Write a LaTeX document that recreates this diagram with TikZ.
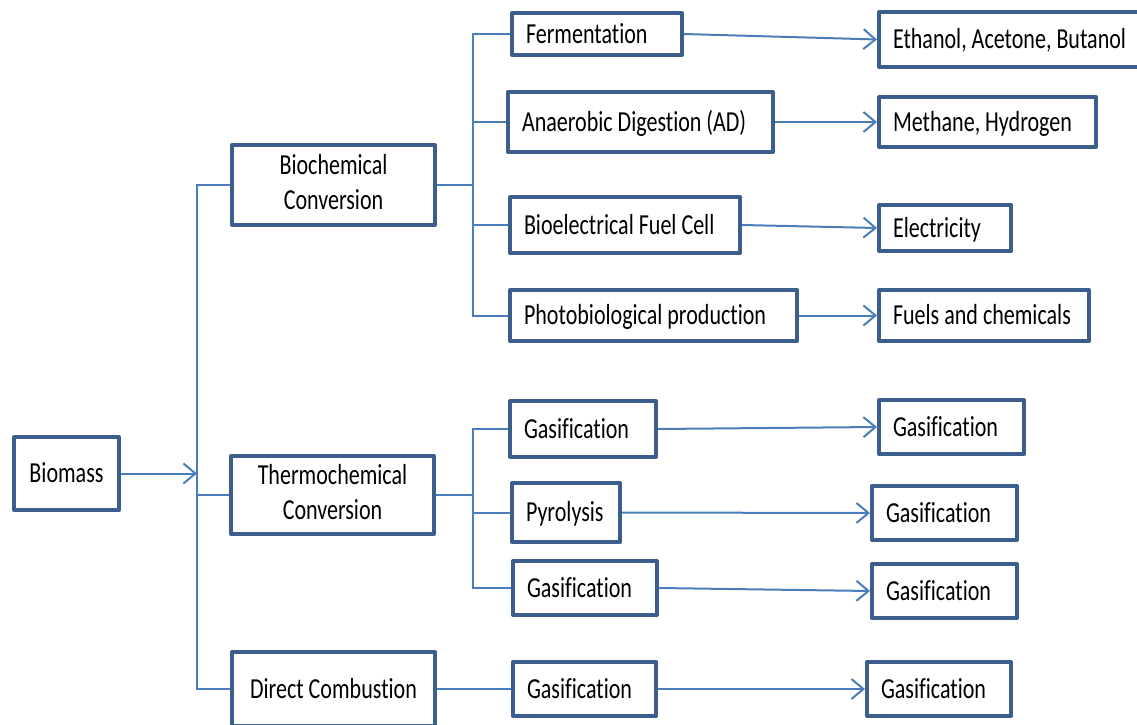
\documentclass[tikz,border=0pt]{standalone}
\usepackage{fontspec}
\setmainfont{Carlito}[FakeStretch=0.76, Ligatures=NoCommon]
\usetikzlibrary{arrows.meta}

\definecolor{boxline}{HTML}{3B5E8C}
\definecolor{linkline}{HTML}{4A7EBB}

\tikzset{
  every node/.style={font=\fontsize{29}{35}\selectfont},
  box/.style={draw=boxline, line width=4pt, fill=white, inner sep=0pt,
              line join=round, text height=18.4pt, text depth=0pt},
  plainbox/.style={draw=boxline, line width=4pt, fill=white, inner sep=0pt,
              line join=round},
  caption/.style={inner sep=0pt, align=center},
  link/.style={draw=linkline, line width=2pt},
  arr/.style={link, -{Straight Barb[length=12pt, width=20pt]}}
}

% box given by its outer corners, text set 16 units in from the left edge
\newcommand\lbox[6]{%
  \node[box, minimum width={#4-#2-4}, minimum height={#5-#3-4}] (#1)
    at ({(#2+#4)/2},{(#3+#5)/2})
    {\makebox[\dimexpr#4pt-#2pt-4pt\relax][l]{\hspace*{14pt}#6}};}
% box given by its outer corners, text centred
\newcommand\cbox[6]{%
  \node[box, minimum width={#4-#2-4}, minimum height={#5-#3-4}] (#1)
    at ({(#2+#4)/2},{(#3+#5)/2})
    {\makebox[\dimexpr#4pt-#2pt-4pt\relax][c]{#6}};}
% empty box given by its outer corners
\newcommand\ebox[5]{%
  \node[plainbox, minimum width={#4-#2-4}, minimum height={#5-#3-4}] (#1)
    at ({(#2+#4)/2},{(#3+#5)/2}) {};}

\begin{document}
\begin{tikzpicture}[x=1pt, y=-1pt]
\useasboundingbox (0,0) rectangle (1137,725);
\clip (0,0) rectangle (1137,725);

% source
\cbox{bio}{12}{435}{121}{512}{Biomass}

% conversion routes
\ebox{bc}{230}{143}{437}{227}
\node[caption] (bct) at ([yshift=3pt]bc.center) {Biochemical\\Conversion};
\ebox{tc}{229}{454}{436}{536}
\node[caption] (tct) at ([yshift=3pt]tc.center) {Thermochemical\\Conversion};
\cbox{dc}{230}{650}{437}{728}{Direct Combustion}

% biochemical processes
\lbox{ferm}{510}{11}{684}{57}{Fermentation}
\lbox{ad}{506}{90}{775}{154}{Anaerobic Digestion (AD)}
\lbox{bfc}{508}{195}{742}{255}{Bioelectrical Fuel Cell}
\lbox{pbp}{508}{288}{799}{343}{Photobiological production}

% biochemical products
\lbox{eth}{877}{10}{1145}{69}{Ethanol, Acetone, Butanol}
\lbox{meth}{877}{95}{1098}{149}{Methane, Hydrogen}
\lbox{elec}{877}{203}{1013}{253}{Electricity}
\lbox{fuel}{877}{288}{1091}{343}{Fuels and chemicals}

% thermochemical processes
\lbox{g1}{508}{399}{658}{459}{Gasification}
\lbox{pyr}{510}{481}{622}{544}{Pyrolysis}
\lbox{g2}{511}{559}{659}{617}{Gasification}

% thermochemical products
\lbox{og1}{877}{398}{1026}{456}{Gasification}
\lbox{op}{870}{484}{1019}{542}{Gasification}
\lbox{og2}{870}{562}{1019}{620}{Gasification}

% direct combustion chain
\lbox{dg}{511}{660}{658}{718}{Gasification}
\lbox{odg}{865}{660}{1013}{718}{Gasification}

% trunk and buses
\coordinate (tr) at (197,0);
\coordinate (bs) at (473,0);

\draw[link] (bc.west) -- (bc.west -| tr) -- (dc.west -| tr) -- (dc.west);
\draw[link] (tc.west -| tr) -- (tc.west);
\draw[arr] (bio.east) -- (bio.east -| tr);

\draw[link] (ferm.west) -- (ferm.west -| bs) -- (pbp.west -| bs) -- (pbp.west);
\draw[link] (bc.east) -- (bc.east -| bs);
\draw[link] (ad.west -| bs) -- (ad.west);
\draw[link] (bfc.west -| bs) -- (bfc.west);

\draw[link] (g1.west) -- (g1.west -| bs) -- (g2.west -| bs) -- (g2.west);
\draw[link] (tc.east) -- (tc.east -| bs);
\draw[link] (pyr.west -| bs) -- (pyr.west);

% process to product arrows
\draw[arr] (ferm.east) -- (eth.west);
\draw[arr] (ad.east) -- (meth.west);
\draw[arr] (bfc.east) -- (elec.west);
\draw[arr] (pbp.east) -- (fuel.west);
\draw[arr] (g1.east) -- (og1.west);
\draw[arr] (pyr.east) -- (op.west);
\draw[arr] (g2.east) -- (og2.west);
\draw[link] (dc.east -| dc.east) -- (dc.east -| dg.west);
\draw[arr] (dg.east) -- (odg.west);
\end{tikzpicture}
\end{document}
